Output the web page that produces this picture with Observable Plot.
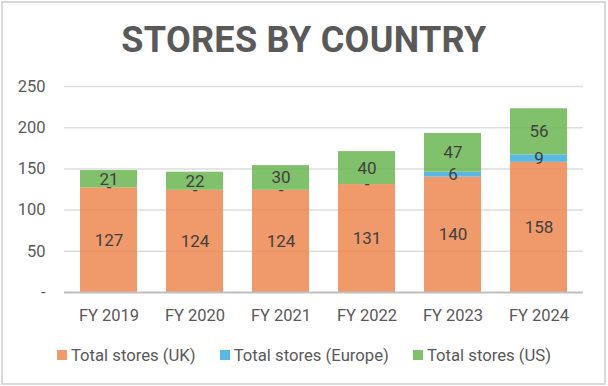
<!DOCTYPE html>
<html><head><meta charset="utf-8">
<script src="https://cdn.jsdelivr.net/npm/d3@7"></script>
<script src="https://cdn.jsdelivr.net/npm/@observablehq/plot@0.6"></script>
<style>
body{margin:0;background:#fff;}
#frame{position:absolute;left:1px;top:1px;width:605px;height:384px;box-sizing:border-box;border:2px solid #D9D9D9;}
#wrap{position:absolute;left:0;top:0;width:608px;height:386px;font-family:Roboto,sans-serif;}
#title{height:72px;line-height:80px;text-align:center;font-weight:700;font-size:36px;color:#595959;letter-spacing:0.3px;}
#legend{display:flex;justify-content:center;font-size:16.7px;color:#595959;height:40px;align-items:center;}
#legend .item{display:flex;align-items:center;margin:0 12px;}
#legend .sw{width:10px;height:10px;margin-right:4px;}
svg{display:block;}
</style></head>
<body>
<div id="frame"></div>
<div id="wrap">
<div id="title">STORES BY COUNTRY</div>
<div id="chart"></div>
<div id="legend"></div>
</div>
<script>
const years = ["FY 2019","FY 2020","FY 2021","FY 2022","FY 2023","FY 2024"];
const seriesNames = ["Total stores (UK)","Total stores (Europe)","Total stores (US)"];
const uk = [127,124,124,131,140,158];
const europe = [0,0,0,0,6,9];
const us = [21,22,30,40,47,56];
const colors = ["#ED8751","#3DADDD","#6CB651"];
const swatchColors = ["#F0996B","#5AB9E2","#82C16B"];
const yTicks = [0,50,100,150,200,250];

const values = [uk, europe, us];
const data = [];
seriesNames.forEach((s, si) => years.forEach((y, yi) => data.push({year: y, series: s, value: values[si][yi]})));

const fmt = v => v === 0 ? "-" : String(v);

const chart = Plot.plot({
  width: 608,
  height: 263,
  marginTop: 14,
  marginBottom: 43,
  marginLeft: 64,
  marginRight: 25,
  style: {fontFamily: "Roboto, sans-serif", fontSize: "16.5px", color: "#595959", background: "transparent"},
  x: {domain: years, paddingInner: 0.34, paddingOuter: 0.17, label: null, tickSize: 0, tickPadding: 17},
  y: {domain: [0, 250], ticks: yTicks, tickFormat: fmt, label: null, tickSize: 0, tickPadding: 19},
  color: {domain: seriesNames, range: colors},
  marks: [
    Plot.gridY(yTicks.filter(t => t > 0), {stroke: "#DDDDDD", strokeOpacity: 1, strokeWidth: 1.5}),
    Plot.barY(data, Plot.stackY({x: "year", y: "value", fill: "series", z: "series", order: seriesNames, fillOpacity: 0.85})),
    Plot.ruleY([0], {stroke: "#BFBFBF", strokeWidth: 2}),
    Plot.text(data, Plot.stackY({x: "year", y: "value", z: "series", order: seriesNames, text: d => fmt(d.value), fill: "#404040", fontSize: 17}))
  ]
});
document.getElementById("chart").appendChild(chart);

const legend = document.getElementById("legend");
seriesNames.forEach((s, i) => {
  const it = document.createElement("div");
  it.className = "item";
  const sw = document.createElement("span");
  sw.className = "sw";
  sw.style.background = swatchColors[i];
  const t = document.createElement("span");
  t.textContent = s;
  it.appendChild(sw); it.appendChild(t);
  legend.appendChild(it);
});
</script>
</body></html>
